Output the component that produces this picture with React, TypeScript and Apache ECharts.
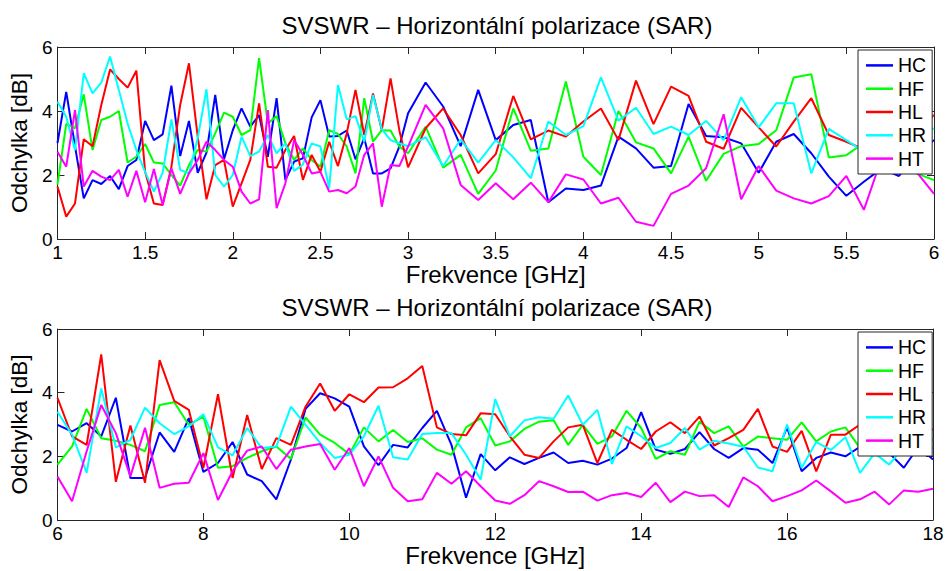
import React, { useEffect, useRef } from "react";
import * as echarts from "echarts";

const FONT = '"Liberation Sans", Arial, Helvetica, sans-serif';
const TITLE = "SVSWR – Horizontální polarizace (SAR)";
const X_NAME = "Frekvence [GHz]";
const Y_NAME = "Odchylka [dB]";
const NAMES = ["HC", "HF", "HL", "HR", "HT"];
const COLORS = ["#0000ff", "#00ff00", "#ff0000", "#00ffff", "#ff00ff"];

// frequency grids (GHz): top 1.00–3.00 step 0.05, then 3.1–6.0 step 0.1; bottom 6–18 step 0.2
const topFreq: number[] = [];
for (let i = 0; i <= 40; i++) topFreq.push(+(1 + 0.05 * i).toFixed(2));
for (let j = 1; j <= 30; j++) topFreq.push(+(3 + 0.1 * j).toFixed(2));
const botFreq: number[] = [];
for (let i = 0; i <= 60; i++) botFreq.push(+(6 + 0.2 * i).toFixed(2));

const topHC = [3.0, 4.6, 2.9, 1.27, 1.84, 1.72, 1.97, 1.56, 2.28, 2.47, 3.69, 3.09, 3.27, 4.79, 2.59, 3.69, 2.07, 2.7, 4.5, 2.49, 3.4, 4.08, 3.51, 3.87, 2.57, 4.4, 1.84, 2.42, 2.52, 3.8, 4.34, 3.2, 3.22, 3.39, 2.49, 3.15, 2.05, 2.05, 2.21, 2.89, 3.93,
  4.89, 4.14, 2.9, 4.66, 3.09, 3.56, 3.72, 1.15, 1.58, 1.53, 1.67, 3.2, 2.83, 2.23, 2.28, 4.22, 3.22, 3.18, 2.99, 2.07, 3.04, 3.28, 2.68, 1.95, 1.35, 1.79, 2.2, 1.97, 2.6, 3.09];
const topHF = [1.7, 3.6, 3.46, 4.52, 2.78, 3.72, 3.82, 4.0, 2.39, 2.57, 2.97, 2.39, 2.36, 2.0, 1.67, 2.31, 2.78, 2.73, 3.3, 3.95, 3.82, 3.25, 3.4, 5.65, 3.61, 3.84, 2.99, 2.47, 2.83, 2.47, 2.26, 3.4, 3.28, 2.89, 2.05, 4.4, 3.04, 3.4, 3.39, 2.89, 2.68,
  3.51, 2.23, 2.63, 1.41, 2.14, 4.08, 2.76, 2.83, 4.92, 2.57, 2.0, 4.0, 3.02, 2.83, 2.05, 3.2, 1.82, 2.66, 2.9, 2.97, 3.4, 5.05, 5.15, 2.55, 2.62, 3.0, 2.9, 2.8, 2.05, 1.84];
const topHL = [1.64, 0.7, 1.11, 3.12, 2.9, 4.19, 5.3, 5.0, 4.73, 5.26, 2.1, 1.11, 1.06, 2.26, 4.19, 5.49, 3.2, 1.24, 2.31, 2.47, 1.01, 1.74, 2.47, 4.24, 2.26, 2.23, 2.78, 3.22, 1.85, 2.63, 2.1, 3.04, 2.28, 3.3, 4.66, 3.25, 4.55, 3.4, 5.02, 3.4, 2.24,
  3.46, 4.08, 3.25, 2.05, 2.65, 4.47, 3.11, 3.39, 3.2, 3.67, 4.08, 3.09, 4.95, 3.59, 4.76, 4.47, 3.04, 2.82, 4.1, 3.49, 2.89, 3.67, 4.4, 3.25, 3.04, 2.8, 3.2, 2.6, 3.3, 3.88];
const topHR = [4.29, 3.82, 2.78, 5.18, 4.55, 4.89, 5.7, 4.66, 3.61, 2.78, 2.1, 1.48, 2.07, 3.74, 2.16, 2.05, 3.15, 4.68, 2.0, 1.64, 2.0, 3.2, 2.59, 2.73, 3.25, 2.68, 2.99, 2.13, 2.33, 2.99, 2.89, 1.58, 4.81, 3.74, 3.84, 3.04, 4.5, 3.43, 3.09, 2.99, 2.9,
  3.18, 2.28, 3.11, 2.39, 3.09, 2.55, 1.9, 3.67, 3.25, 3.53, 5.05, 3.7, 4.1, 3.28, 3.51, 3.25, 3.69, 3.09, 4.43, 3.49, 4.24, 4.24, 2.05, 3.44, 3.09, 2.73, 2.4, 2.9, 3.2, 3.46];
const topHT = [2.73, 2.26, 4.03, 1.64, 2.13, 1.95, 1.84, 2.16, 1.32, 2.13, 1.15, 2.19, 1.06, 2.21, 1.41, 2.05, 2.47, 3.04, 2.78, 2.47, 2.26, 1.48, 1.11, 1.24, 4.03, 0.96, 1.74, 3.09, 2.63, 2.05, 2.1, 1.48, 1.53, 1.43, 1.64, 2.63, 2.99, 1.01, 2.31, 2.28, 2.89,
  4.19, 3.46, 1.69, 1.22, 1.74, 1.24, 1.76, 1.15, 2.02, 1.86, 1.11, 1.29, 0.54, 0.41, 1.41, 1.67, 2.21, 3.9, 1.24, 2.28, 1.51, 1.27, 1.11, 1.34, 1.97, 0.91, 2.5, 2.4, 2.1, 1.41];

const botHC = [2.99, 2.78, 3.04, 2.63, 3.84, 1.32, 1.32, 2.75, 2.14, 3.2, 1.51, 1.79, 2.45, 1.43, 1.22, 0.65, 1.9, 3.49, 3.98, 3.82, 3.56, 2.31, 1.72, 2.36, 2.28, 2.89, 3.43, 2.36, 0.7, 2.07, 1.56, 1.97, 1.76, 1.95, 2.12, 1.79, 1.86, 1.74, 1.93, 2.26, 3.39, 2.21, 2.08, 2.23, 2.76, 2.23, 1.95, 2.26, 2.21, 1.79, 2.91, 1.53, 1.95, 2.12, 2.0, 2.3, 2.2, 2.1, 1.64, 2.3, 1.9];
const botHF = [1.74, 2.31, 3.49, 2.57, 2.49, 2.36, 2.16, 3.61, 3.7, 2.99, 3.25, 1.64, 1.69, 1.95, 2.16, 2.31, 1.92, 3.22, 2.68, 2.42, 2.07, 2.91, 2.47, 2.83, 2.45, 2.57, 2.21, 2.05, 2.91, 3.2, 2.34, 2.47, 2.86, 3.09, 3.13, 2.36, 2.99, 2.39, 2.63, 3.43, 2.89, 1.92, 2.16, 2.05, 3.09, 2.73, 2.94, 2.31, 2.62, 2.57, 2.52, 3.07, 2.47, 2.78, 2.91, 2.26, 2.7, 2.9, 2.5, 2.8, 2.52];
const botHL = [3.84, 2.63, 2.36, 5.2, 1.2, 2.97, 1.17, 5.02, 3.74, 3.46, 1.64, 3.95, 1.32, 3.3, 1.6, 2.57, 2.36, 3.56, 4.29, 3.43, 3.95, 3.7, 4.16, 4.17, 4.45, 4.84, 2.91, 2.7, 2.66, 3.35, 3.32, 2.63, 2.05, 1.95, 2.47, 2.91, 2.99, 1.79, 2.83, 2.52, 2.23, 2.78, 3.07, 2.73, 3.25, 2.34, 2.57, 2.83, 3.49, 2.31, 2.14, 2.8, 1.53, 2.68, 2.68, 3.0, 2.6, 3.0, 2.7, 3.1, 2.83];
const botHR = [3.4, 2.68, 1.48, 4.13, 2.28, 2.52, 3.53, 3.04, 2.7, 2.94, 3.32, 2.28, 2.03, 2.89, 2.26, 2.31, 3.56, 2.99, 2.42, 1.95, 2.05, 2.63, 3.59, 1.97, 1.9, 2.7, 2.73, 2.73, 2.05, 1.27, 3.8, 2.63, 3.13, 3.23, 3.18, 3.91, 2.99, 3.46, 1.76, 2.94, 2.63, 2.26, 2.42, 2.89, 2.21, 2.49, 2.4, 2.3, 1.65, 1.53, 3.0, 1.64, 2.45, 2.2, 2.6, 1.48, 2.1, 1.74, 2.3, 2.4, 2.26];
const botHT = [1.37, 0.59, 2.16, 3.61, 2.73, 1.37, 2.9, 1.01, 1.14, 1.17, 2.1, 0.63, 1.53, 2.18, 2.31, 1.6, 2.21, 2.31, 2.39, 1.58, 2.26, 1.06, 2.0, 1.01, 0.59, 0.65, 1.48, 1.14, 1.53, 1.06, 0.61, 0.51, 0.78, 1.22, 1.06, 0.88, 0.89, 0.61, 0.78, 0.85, 0.72, 1.17, 0.56, 0.89, 0.75, 0.78, 0.41, 1.34, 1.06, 0.59, 0.75, 0.93, 1.24, 0.9, 0.54, 0.65, 0.89, 0.49, 0.93, 0.89, 0.98];

const topSeries = [topHC, topHF, topHL, topHR, topHT];
const botSeries = [botHC, botHF, botHL, botHR, botHT];

const AXIS_COLOR = "#262626";

function zip(xs: number[], ys: number[]) {
  return ys.map((y, i) => [xs[i], y]);
}

function xAxes(gridIndex: number, min: number, max: number, interval: number) {
  const base = {
    type: "value",
    gridIndex,
    min,
    max,
    interval,
    splitLine: { show: false },
    axisLine: { show: true, onZero: false, lineStyle: { color: AXIS_COLOR, width: 1 } },
    axisTick: { show: true, inside: true, length: 7, lineStyle: { color: AXIS_COLOR } },
  };
  return [
    {
      ...base,
      position: "bottom",
      name: X_NAME,
      nameLocation: "middle",
      nameGap: 21,
      nameTextStyle: { fontFamily: FONT, fontSize: 24, color: "#000" },
      axisLabel: { fontFamily: FONT, fontSize: 19, color: "#000", margin: 4 },
    },
    { ...base, position: "top", axisLabel: { show: false } },
  ];
}

function yAxes(gridIndex: number) {
  const base = {
    type: "value",
    gridIndex,
    min: 0,
    max: 6,
    interval: 2,
    splitLine: { show: false },
    axisLine: { show: true, onZero: false, lineStyle: { color: AXIS_COLOR, width: 1 } },
    axisTick: { show: true, inside: true, length: 7, lineStyle: { color: AXIS_COLOR } },
  };
  return [
    {
      ...base,
      position: "left",
      name: Y_NAME,
      nameLocation: "middle",
      nameGap: 19,
      nameTextStyle: { fontFamily: FONT, fontSize: 22.5, color: "#000" },
      axisLabel: { fontFamily: FONT, fontSize: 19, color: "#000", margin: 5 },
    },
    { ...base, position: "right", axisLabel: { show: false } },
  ];
}

function legend(top: number) {
  return {
    orient: "vertical",
    left: 858,
    top,
    data: NAMES,
    icon: "rect",
    itemWidth: 27,
    itemHeight: 2.5,
    itemGap: 2.5,
    padding: [5, 6, 5, 8],
    borderColor: AXIS_COLOR,
    borderWidth: 1,
    backgroundColor: "#fff",
    selectedMode: false,
    textStyle: { fontFamily: FONT, fontSize: 19.5, lineHeight: 20.8, color: "#000" },
  };
}

export default function App() {
  const ref = useRef<HTMLDivElement>(null);
  useEffect(() => {
    if (!ref.current) return;
    const chart = echarts.init(ref.current, null, { renderer: "svg" });
    const series: any[] = [];
    NAMES.forEach((name, i) => {
      series.push({
        name,
        type: "line",
        xAxisIndex: 0,
        yAxisIndex: 0,
        data: zip(topFreq, topSeries[i]),
        symbol: "none",
        lineStyle: { color: COLORS[i], width: 2 },
        itemStyle: { color: COLORS[i] },
        clip: true,
      });
    });
    NAMES.forEach((name, i) => {
      series.push({
        name,
        type: "line",
        xAxisIndex: 2,
        yAxisIndex: 2,
        data: zip(botFreq, botSeries[i]),
        symbol: "none",
        lineStyle: { color: COLORS[i], width: 2 },
        itemStyle: { color: COLORS[i] },
        clip: true,
      });
    });
    chart.setOption({
      animation: false,
      backgroundColor: "#fff",
      title: [
        {
          text: TITLE,
          left: 492,
          top: 8,
          textAlign: "center",
          textStyle: { fontFamily: FONT, fontSize: 24, fontWeight: "normal", color: "#000" },
        },
        {
          text: TITLE,
          left: 492,
          top: 290,
          textAlign: "center",
          textStyle: { fontFamily: FONT, fontSize: 24, fontWeight: "normal", color: "#000" },
        },
      ],
      legend: [legend(50), legend(332)],
      grid: [
        { left: 55, top: 47, width: 879, height: 192, containLabel: false },
        { left: 55, top: 329, width: 878, height: 191, containLabel: false },
      ],
      xAxis: [...xAxes(0, 1, 6, 0.5), ...xAxes(1, 6, 18, 2)],
      yAxis: [...yAxes(0), ...yAxes(1)],
      series,
    });
    return () => chart.dispose();
  }, []);
  return (
    <div
      ref={ref}
      style={{ position: "fixed", left: 0, top: 0, width: 947, height: 571, background: "#fff" }}
    />
  );
}
